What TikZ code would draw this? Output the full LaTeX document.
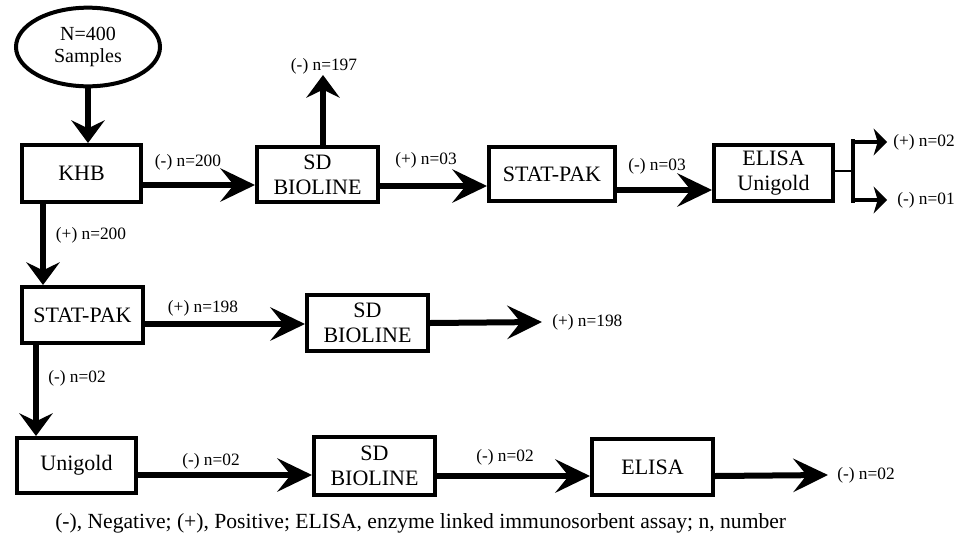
\documentclass[tikz,border=0pt]{standalone}
\usepackage{fontspec}
\setmainfont{Liberation Serif}
\usetikzlibrary{arrows.meta,shapes.geometric}
\begin{document}
\begin{tikzpicture}[x=0.75pt,y=-0.75pt,
 box/.style={draw, line width=3pt, align=center, inner sep=0pt, font=\fontsize{16.5}{18.5}\selectfont},
 lbl/.style={font=\fontsize{13}{14}\selectfont, inner sep=0pt},
 harrow/.style={line width=4.5pt, -{Stealth[length=26pt,width=25pt,inset=10pt]}},
 varrow/.style={line width=4pt, -{Stealth[length=17pt,width=25pt,inset=6pt]}},
 sarrow/.style={line width=3pt, -{Stealth[length=10pt,width=20pt,inset=3pt]}},
]
\fill[white] (0,0) rectangle (970,543);
\useasboundingbox (0,0) rectangle (970,543);

% nodes
\node[draw, ellipse, line width=3pt, minimum width=108pt, minimum height=59pt, align=center,
      font=\fontsize{15}{17}\selectfont, inner sep=0pt] (start) at (88,47) {N=400\\Samples};
\node[box, minimum width=89.25pt, minimum height=42.75pt] (khb) at (81.5,173.5) {KHB};
\node[box, minimum width=90.75pt, minimum height=41.25pt] (sd1) at (317.5,174.5) {SD\\BIOLINE};
\node[box, minimum width=94.5pt, minimum height=40.5pt] (stat1) at (552,174) {STAT-PAK};
\node[box, minimum width=89.25pt, minimum height=42pt] (eu) at (773.5,173) {ELISA\\Unigold};
\node[box, minimum width=90.75pt, minimum height=42pt] (stat2) at (82.5,315) {STAT-PAK};
\node[box, minimum width=90.75pt, minimum height=42pt] (sd2) at (367.5,323) {SD\\BIOLINE};
\node[box, minimum width=89.25pt, minimum height=41.25pt] (uni) at (76.5,465.5) {Unigold};
\node[box, minimum width=90.75pt, minimum height=43.5pt] (sd3) at (374.5,466) {SD\\BIOLINE};
\node[box, minimum width=90.75pt, minimum height=42pt] (elisa) at (652.5,467) {ELISA};

% output labels
\node[lbl] (o197) at (324,66) {(-) n=197};
\node[lbl, anchor=west] (o02p) at (893,142) {(+) n=02};
\node[lbl, anchor=west] (o01) at (897,200) {(-) n=01};
\node[lbl, anchor=west] (o198) at (552,322) {(+) n=198};
\node[lbl, anchor=west] (o02n) at (837,475) {(-) n=02};

% connector labels
\node[lbl] (l1) at (188,162) {(-) n=200};
\node[lbl] (l2) at (426,160) {(+) n=03};
\node[lbl] (l3) at (657,166) {(-) n=03};
\node[lbl] (l4) at (91,235) {(+) n=200};
\node[lbl] (l5) at (203,308) {(+) n=198};
\node[lbl] (l6) at (77,378) {(-) n=02};
\node[lbl] (l7) at (211,461) {(-) n=02};
\node[lbl] (l8) at (505,457) {(-) n=02};

% connectors
\draw[varrow] (start.south) -- (start.south |- khb.north);
\draw[harrow] (khb.east |- 0,185) -- (sd1.west |- 0,185);
\draw[varrow] (sd1.north -| 323,0) -- (323,75);
\draw[harrow] (sd1.east |- 0,186) -- (stat1.west |- 0,186);
\draw[harrow] (stat1.east |- 0,190) -- (eu.west |- 0,190);

\coordinate (br) at (853,171);
\coordinate (brt) at (853,142);
\coordinate (brb) at (853,200);
\draw[line width=1.5pt] (eu.east |- br) -- (br);
\draw[line width=2.5pt] (853,139) -- (853,203);
\draw[sarrow] (brt) -- ([xshift=-4.5pt]o02p.west);
\draw[sarrow] (brb) -- ([xshift=-7.5pt]o01.west);

\draw[varrow] (khb.south -| 43,0) -- (stat2.north -| 43,0);
\draw[harrow] (stat2.east |- 0,324) -- (sd2.west |- 0,324);
\draw[harrow] (sd2.east |- 0,323) -- ([xshift=-7.5pt]o198.west);
\draw[varrow] (stat2.south -| 36,0) -- (uni.north -| 36,0);
\draw[harrow] (uni.east |- 0,475) -- (sd3.west |- 0,475);
\draw[harrow] (sd3.east |- 0,476) -- (elisa.west |- 0,476);
\draw[harrow] (elisa.east |- 0,476) -- ([xshift=-6.75pt]o02n.west);

% footer
\node[anchor=west, inner sep=0pt, font=\fontsize{16.2}{18}\selectfont] (foot) at (55,523)
  {(-), Negative; (+), Positive; ELISA, enzyme linked immunosorbent assay; n, number};
\end{tikzpicture}
\end{document}
